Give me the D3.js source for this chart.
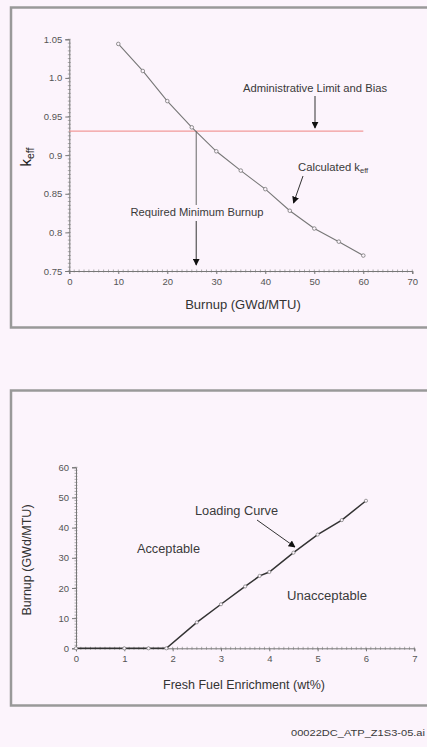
<!DOCTYPE html>
<html><head><meta charset="utf-8">
<script src="https://cdn.jsdelivr.net/npm/d3@7"></script>
<style>
html,body{margin:0;padding:0;background:#fcf4fc;}
svg{display:block;font-family:"Liberation Sans",Arial,sans-serif;}
</style></head>
<body>
<svg id="c" width="427" height="747"></svg>
<script>
// ---- Data: top chart ----
const burnupTop = [10,15,20,25,30,35,40,45,50,55,60];
const keffValues = [1.044,1.009,0.970,0.936,0.905,0.880,0.856,0.828,0.805,0.788,0.770];
const keffTicks = [0.75,0.8,0.85,0.9,0.95,1.0,1.05];
const keffTickLabels = ["0.75","0.8","0.85","0.9","0.95","1.0","1.05"];
const burnupTicks = [0,10,20,30,40,50,60,70];
const adminLimit = 0.931;
const requiredBurnup = 25.9;

// ---- Data: bottom chart ----
const enrichment = [0,1,1.5,1.87,2.5,3,3.5,3.8,4,4.5,5,5.5,6];
const loadingBurnup = [0,0,0,0,8.6,14.6,20.5,24,25.3,31.7,37.7,42.5,48.9];
const enrichTicks = [0,1,2,3,4,5,6,7];
const burnupAxisTicks = [0,10,20,30,40,50,60];

const svg = d3.select("#c");

// panel borders
svg.append("rect").attr("x",11).attr("y",7.5).attr("width",440).attr("height",320)
  .attr("fill","none").attr("stroke","#999").attr("stroke-width",2.5);
svg.append("rect").attr("x",11).attr("y",390.5).attr("width",440).attr("height",315)
  .attr("fill","none").attr("stroke","#999").attr("stroke-width",2.5);

const defs = svg.append("defs");
defs.append("marker").attr("id","arr").attr("viewBox","0 0 10 10").attr("refX",9).attr("refY",5)
  .attr("markerWidth",7).attr("markerHeight",7).attr("markerUnits","userSpaceOnUse").attr("orient","auto")
  .append("path").attr("d","M0,0L10,5L0,10Z").attr("fill","#111");

function styleAxis(g){
  g.select(".domain").attr("stroke","#777");
  g.selectAll(".tick line").attr("stroke","#777");
  g.selectAll(".tick text").attr("fill","#555").style("font-size","9.5px");
}
function label(g, x, y, txt, size, len, anchor){
  return g.append("text").attr("x",x).attr("y",y).attr("text-anchor",anchor||"start")
    .attr("fill","#3a3a3a").style("font-size",size+"px")
    .attr("textLength",len).attr("lengthAdjust","spacingAndGlyphs").text(txt);
}

// ================= TOP CHART =================
const x1 = d3.scaleLinear().domain([0,70]).range([69.3,412.3]);
const y1 = d3.scaleLinear().domain([0.75,1.05]).range([271,39.3]);
const topG = svg.append("g");

// minor ticks
topG.append("g").selectAll("line").data(d3.range(0,70.01,1)).join("line")
  .attr("x1",d=>x1(d)).attr("x2",d=>x1(d)).attr("y1",y1(0.75)-1.5).attr("y2",y1(0.75)+1.5)
  .attr("stroke","#999").attr("stroke-width",0.8);
topG.append("g").selectAll("line").data(d3.range(0.75,1.0501,0.005)).join("line")
  .attr("y1",d=>y1(d)).attr("y2",d=>y1(d)).attr("x1",x1(0)-1.5).attr("x2",x1(0)+1.5)
  .attr("stroke","#999").attr("stroke-width",0.8);

topG.append("g").attr("transform",`translate(0,${y1(0.75)})`)
  .call(d3.axisBottom(x1).tickValues(burnupTicks).tickFormat(d3.format("d")).tickSize(3).tickPadding(4))
  .call(styleAxis);
topG.append("g").attr("transform",`translate(${x1(0)},0)`)
  .call(d3.axisLeft(y1).tickValues(keffTicks).tickFormat((d,i)=>keffTickLabels[i]).tickSize(4).tickPadding(3))
  .call(styleAxis);

// admin limit line
topG.append("line").attr("x1",x1(0)).attr("x2",x1(60)).attr("y1",y1(adminLimit)).attr("y2",y1(adminLimit))
  .attr("stroke","#f29a9a").attr("stroke-width",1.2);

// keff curve
topG.append("path").datum(burnupTop.map((b,i)=>[b,keffValues[i]]))
  .attr("d",d3.line().x(d=>x1(d[0])).y(d=>y1(d[1])))
  .attr("fill","none").attr("stroke","#777").attr("stroke-width",1.1);
topG.append("g").selectAll("circle").data(burnupTop.map((b,i)=>[b,keffValues[i]])).join("circle")
  .attr("cx",d=>x1(d[0])).attr("cy",d=>y1(d[1])).attr("r",1.8)
  .attr("fill","#fcf4fc").attr("stroke","#777").attr("stroke-width",0.8);

// required minimum burnup vertical line
topG.append("line").attr("x1",x1(requiredBurnup)).attr("x2",x1(requiredBurnup))
  .attr("y1",y1(adminLimit)).attr("y2",205).attr("stroke","#666").attr("stroke-width",1);
topG.append("line").attr("x1",x1(requiredBurnup)).attr("x2",x1(requiredBurnup))
  .attr("y1",221).attr("y2",265).attr("stroke","#333").attr("stroke-width",1).attr("marker-end","url(#arr)");
label(topG,197,216,"Required Minimum Burnup",10.5,133,"middle");

// admin label
label(topG,315,91.5,"Administrative Limit and Bias",10,144,"middle");
topG.append("line").attr("x1",315).attr("x2",315).attr("y1",96).attr("y2",128)
  .attr("stroke","#333").attr("stroke-width",1).attr("marker-end","url(#arr)");

// calculated keff label
const ck = topG.append("text").attr("x",298).attr("y",170.5).attr("fill","#3a3a3a").style("font-size","10.5px");
ck.append("tspan").attr("textLength",62).attr("lengthAdjust","spacingAndGlyphs").text("Calculated k");
ck.append("tspan").attr("dy",2.5).style("font-size","7.5px").text("eff");
topG.append("line").attr("x1",303).attr("y1",176).attr("x2",293.5).attr("y2",203)
  .attr("stroke","#333").attr("stroke-width",1).attr("marker-end","url(#arr)");

// axis titles
topG.append("text").attr("x",243).attr("y",309).attr("text-anchor","middle")
  .attr("fill","#333").style("font-size","13px").text("Burnup (GWd/MTU)");
const kl = topG.append("text").attr("transform","translate(31,157) rotate(-90)").attr("text-anchor","middle")
  .attr("fill","#222").style("font-size","15px");
kl.append("tspan").text("k");
kl.append("tspan").attr("dy",3).style("font-size","10.5px").text("eff");

// ================= BOTTOM CHART =================
const x2 = d3.scaleLinear().domain([0,7]).range([76,414.3]);
const y2 = d3.scaleLinear().domain([0,60]).range([648.3,467.3]);
const botG = svg.append("g");

botG.append("g").selectAll("line").data(d3.range(0,7.001,0.1)).join("line")
  .attr("x1",d=>x2(d)).attr("x2",d=>x2(d)).attr("y1",y2(0)-1.5).attr("y2",y2(0)+1.5)
  .attr("stroke","#999").attr("stroke-width",0.8);
botG.append("g").selectAll("line").data(d3.range(0,60.01,1)).join("line")
  .attr("y1",d=>y2(d)).attr("y2",d=>y2(d)).attr("x1",x2(0)-1.5).attr("x2",x2(0)+1.5)
  .attr("stroke","#999").attr("stroke-width",0.8);

botG.append("g").attr("transform",`translate(0,${y2(0)})`)
  .call(d3.axisBottom(x2).tickValues(enrichTicks).tickFormat(d3.format("d")).tickSize(3).tickPadding(4))
  .call(styleAxis);
botG.append("g").attr("transform",`translate(${x2(0)},0)`)
  .call(d3.axisLeft(y2).tickValues(burnupAxisTicks).tickFormat(d3.format("d")).tickSize(4).tickPadding(3))
  .call(styleAxis);

const lc = enrichment.map((e,i)=>[e,loadingBurnup[i]]);
botG.append("path").datum(lc)
  .attr("d",d3.line().x(d=>x2(d[0])).y(d=>y2(d[1])))
  .attr("fill","none").attr("stroke","#333").attr("stroke-width",1.5);
botG.append("g").selectAll("circle").data(lc).join("circle")
  .attr("cx",d=>x2(d[0])).attr("cy",d=>y2(d[1])).attr("r",1.6)
  .attr("fill","#fcf4fc").attr("stroke","#777").attr("stroke-width",0.7);

label(botG,195,515,"Loading Curve",12,83);
botG.append("line").attr("x1",257).attr("y1",520).attr("x2",295).attr("y2",547)
  .attr("stroke","#333").attr("stroke-width",1).attr("marker-end","url(#arr)");
label(botG,137,553,"Acceptable",12,63);
label(botG,287,600,"Unacceptable",12,80);

botG.append("text").attr("x",244).attr("y",689).attr("text-anchor","middle")
  .attr("fill","#333").style("font-size","12.5px").text("Fresh Fuel Enrichment (wt%)");
botG.append("text").attr("transform","translate(31,560) rotate(-90)").attr("text-anchor","middle")
  .attr("fill","#333").style("font-size","12.5px").text("Burnup (GWd/MTU)");

// footer
label(svg,425,736,"00022DC_ATP_Z1S3-05.ai",9.5,134,"end");
</script>
</body></html>
